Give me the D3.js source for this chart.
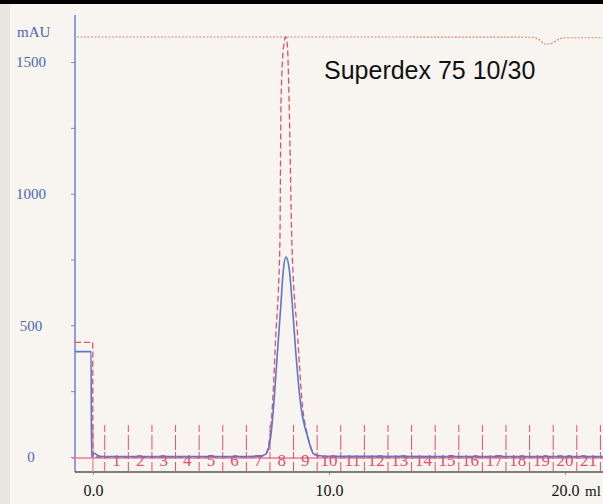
<!DOCTYPE html>
<html>
<head>
<meta charset="utf-8">
<script src="https://cdn.jsdelivr.net/npm/d3@7"></script>
<style>
  html, body { margin: 0; padding: 0; background: #f8f5f0; }
  svg { display: block; }
</style>
</head>
<body>
<div id="main"></div>
<script>
// chromatogram data (ml, mAU)
const uvTrace = [
  [-0.76, 400], [-0.08, 400], [-0.06, 0], [0.05, 14], [0.2, 6], [0.4, 2],
  [3.0, 2], [6.0, 2], [7.0, 3], [7.32, 10], [7.53, 75], [7.66, 200],
  [7.83, 414], [7.96, 575], [8.06, 703], [8.18, 759], [8.33, 703],
  [8.45, 575], [8.58, 414], [8.8, 200], [9.1, 75], [9.36, 10], [9.7, 4],
  [10.0, 3], [15.0, 2], [21.6, 2]
];
const secondTrace = [
  [-0.76, 435], [-0.01, 435], [0.0, 0], [3.0, 0], [7.0, 0], [7.3, 10],
  [7.5, 80], [7.62, 220], [7.74, 450], [7.92, 810], [7.97, 1355],
  [8.08, 1560], [8.17, 1595], [8.24, 1560], [8.31, 1355], [8.43, 810],
  [8.68, 450], [8.85, 220], [9.1, 80], [9.4, 10], [9.7, 0], [21.6, 0]
];
const condTrace = [
  [-0.68, 1595], [10.0, 1595], [18.6, 1594], [18.9, 1585], [19.15, 1568],
  [19.4, 1570], [19.7, 1585], [20.0, 1592], [21.6, 1592]
];
const fractionBounds = [0.5, 1.5, 2.5, 3.5, 4.5, 5.5, 6.5, 7.5, 8.5, 9.5, 10.5,
  11.5, 12.5, 13.5, 14.5, 15.5, 16.5, 17.5, 18.5, 19.5, 20.5, 21.5];
const fractionLabels = ["1", "2", "3", "4", "5", "6", "7", "8", "9", "10", "11",
  "12", "13", "14", "15", "16", "17", "18", "19", "20", "21"];
const fractionCentres = [1, 2, 3, 4, 5, 6, 7, 8, 9, 10, 11, 12, 13, 14, 15, 16,
  17, 18, 19, 20, 21];
const yTicks = [0, 250, 500, 750, 1000, 1250, 1500];
const yLabelled = [0, 500, 1000, 1500];
const xTicks = [0, 10, 20];
const title = "Superdex 75 10/30";

const ctx = {
  w: 603,
  h: 504,
  left: 75,
  right: 603,
  top: 15,
  axisY: 472,
  blue: "#5a78c8",
  red: "#e0506e",
  pink: "#ea7a9c",
  orange: "#d98a5a",
};

const x = d3.scaleLinear().domain([-0.76, 21.61]).range([ctx.left, ctx.right]);
const y = d3.scaleLinear().domain([0, 1500]).range([457, 62]);

const svg = d3.select("#main").append("svg")
  .attr("width", ctx.w)
  .attr("height", ctx.h);

// paper + scan edges
svg.append("rect").attr("width", ctx.w).attr("height", ctx.h).attr("fill", "#f8f5f0");
svg.append("rect").attr("x", 0).attr("y", 0).attr("width", 10).attr("height", ctx.h)
  .attr("fill", "#e8e6e2");
svg.append("rect").attr("x", 0).attr("y", 0).attr("width", ctx.w).attr("height", 4)
  .attr("fill", "#000");

// y axis
const yAxis = svg.append("g")
  .attr("transform", `translate(${ctx.left},0)`)
  .call(d3.axisLeft(y).tickValues(yTicks).tickSize(4)
    .tickFormat(d => yLabelled.includes(d) ? d : ""));
yAxis.select(".domain").remove();
yAxis.selectAll(".tick line").attr("stroke", "#8a8aa0");
yAxis.selectAll(".tick text")
  .attr("x", 31 - ctx.left)
  .attr("text-anchor", "middle")
  .attr("fill", "#4a66b4")
  .style("font", "15px 'Liberation Serif', serif");
svg.append("line")
  .attr("x1", ctx.left).attr("x2", ctx.left)
  .attr("y1", ctx.top).attr("y2", ctx.axisY)
  .attr("stroke", "#6b80d0").attr("stroke-width", 1.5);
svg.append("text")
  .attr("x", 17).attr("y", 37)
  .attr("fill", "#4a66b4")
  .style("font", "15px 'Liberation Serif', serif")
  .text("mAU");

// x axis
const xAxis = svg.append("g")
  .attr("transform", `translate(0,${ctx.axisY})`)
  .call(d3.axisBottom(x).tickValues(xTicks).tickSize(3).tickFormat(d3.format(".1f")));
xAxis.select(".domain").remove();
xAxis.selectAll(".tick line").attr("stroke", "#999");
xAxis.selectAll(".tick text")
  .attr("y", 13)
  .attr("fill", "#111")
  .style("font", "16px 'Liberation Serif', serif");
svg.append("line")
  .attr("x1", ctx.left).attr("x2", ctx.right)
  .attr("y1", ctx.axisY).attr("y2", ctx.axisY)
  .attr("stroke", "#555").attr("stroke-width", 1.5);
svg.append("text")
  .attr("x", 585).attr("y", ctx.axisY + 24)
  .attr("fill", "#111")
  .style("font", "15px 'Liberation Serif', serif")
  .text("ml");

// fraction marks
const frac = svg.append("g").attr("id", "fractions");
frac.append("line")
  .attr("x1", ctx.left - 3).attr("x2", ctx.right)
  .attr("y1", y(0) + 1).attr("y2", y(0) + 1)
  .attr("stroke", ctx.pink).attr("stroke-width", 1.3);
frac.selectAll("line.bound")
  .data(fractionBounds)
  .enter()
  .append("line")
  .attr("class", "bound")
  .attr("x1", d => x(d)).attr("x2", d => x(d))
  .attr("y1", 425).attr("y2", ctx.axisY)
  .attr("stroke", ctx.red).attr("stroke-width", 1)
  .attr("stroke-dasharray", "7,3,15,2");
frac.append("line")
  .attr("x1", x(0)).attr("x2", x(0))
  .attr("y1", 425).attr("y2", ctx.axisY)
  .attr("stroke", ctx.pink).attr("stroke-width", 1.2);
frac.selectAll("text")
  .data(fractionLabels)
  .enter()
  .append("text")
  .attr("x", (d, i) => x(fractionCentres[i]))
  .attr("y", 466)
  .attr("text-anchor", "middle")
  .attr("fill", ctx.red)
  .style("font", "17px 'Liberation Serif', serif")
  .text(d => d);

// traces
const line = d3.line()
  .x(d => x(d[0]))
  .y(d => y(d[1]))
  .curve(d3.curveMonotoneX);

svg.append("path")
  .datum(condTrace)
  .attr("d", line)
  .attr("fill", "none")
  .attr("stroke", ctx.orange)
  .attr("stroke-width", 1.2)
  .attr("stroke-dasharray", "2,1.5");

svg.append("path")
  .datum(secondTrace)
  .attr("d", line)
  .attr("fill", "none")
  .attr("stroke", ctx.red)
  .attr("stroke-width", 1.3)
  .attr("stroke-dasharray", "6,3");

svg.append("path")
  .datum(uvTrace)
  .attr("d", line)
  .attr("fill", "none")
  .attr("stroke", ctx.blue)
  .attr("stroke-width", 1.6);

svg.append("text")
  .attr("x", 324).attr("y", 79)
  .attr("fill", "#111")
  .style("font", "25px 'Liberation Sans', Arial, sans-serif")
  .text(title);
</script>
</body>
</html>
